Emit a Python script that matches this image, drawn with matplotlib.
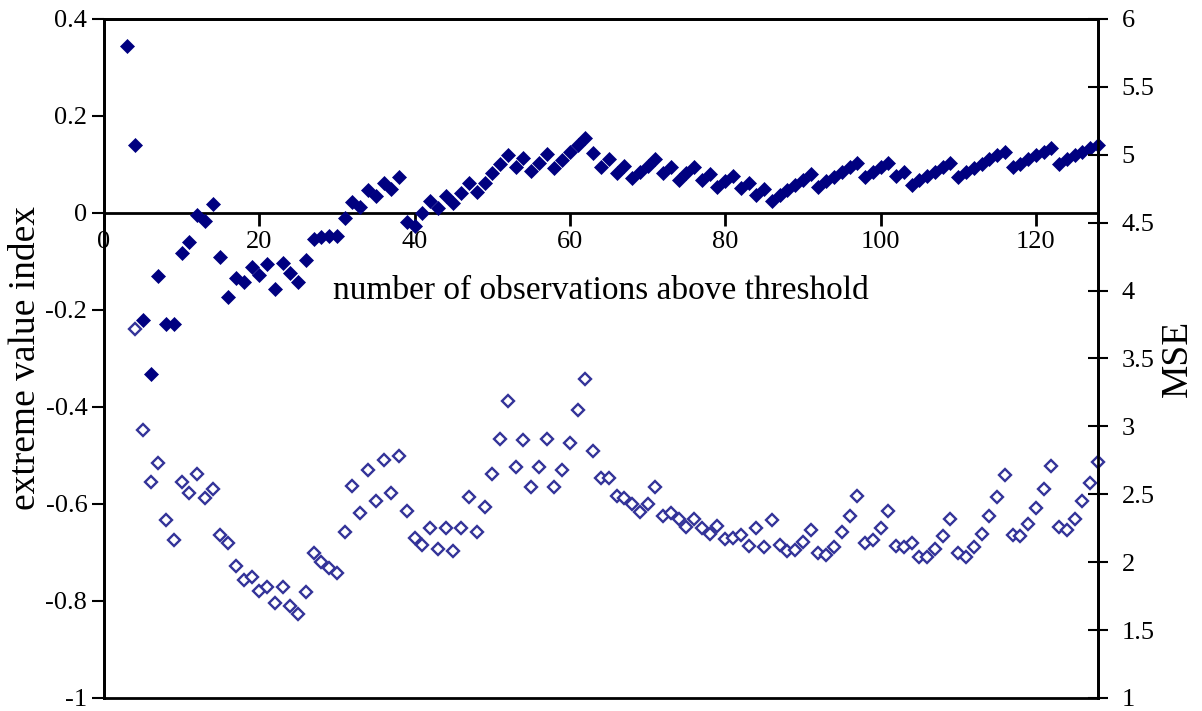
import numpy as np
import matplotlib
matplotlib.use('Agg')
import matplotlib.pyplot as plt
from matplotlib.ticker import FuncFormatter, MultipleLocator

plt.rcParams['font.family'] = ['Liberation Serif', 'DejaVu Serif']

# extreme value index (filled diamonds), k = 3..128
evi_k = np.arange(3, 129)
evi = [0.345, 0.14, -0.22, -0.333, -0.13, -0.229, -0.229, -0.082, -0.059, -0.004,
       -0.016, 0.019, -0.091, -0.173, -0.135, -0.142, -0.112, -0.128, -0.106, -0.157,
       -0.104, -0.124, -0.143, -0.096, -0.053, -0.049, -0.047, -0.047, -0.010, 0.023,
       0.013, 0.047, 0.034, 0.061, 0.049, 0.074, -0.018, -0.027, -0.001, 0.025,
       0.011, 0.035, 0.020, 0.041, 0.062, 0.043, 0.062, 0.082, 0.101, 0.120,
       0.094, 0.113, 0.087, 0.104, 0.121, 0.093, 0.109, 0.125, 0.140, 0.154,
       0.124, 0.095, 0.111, 0.083, 0.097, 0.072, 0.085, 0.097, 0.111, 0.082,
       0.095, 0.069, 0.082, 0.094, 0.068, 0.081, 0.053, 0.065, 0.077, 0.051,
       0.062, 0.037, 0.049, 0.025, 0.037, 0.047, 0.058, 0.069, 0.080, 0.054,
       0.065, 0.075, 0.085, 0.094, 0.104, 0.075, 0.084, 0.094, 0.104, 0.076,
       0.085, 0.058, 0.067, 0.076, 0.085, 0.094, 0.104, 0.075, 0.084, 0.093,
       0.102, 0.111, 0.120, 0.126, 0.094, 0.102, 0.111, 0.120, 0.126, 0.133,
       0.102, 0.111, 0.120, 0.126, 0.133, 0.140]

# MSE (open diamonds), k = 4..128
mse_k = np.arange(4, 129)
mse = [3.72, 2.97, 2.59, 2.73, 2.31, 2.16, 2.59, 2.51, 2.65, 2.47,
       2.54, 2.20, 2.14, 1.97, 1.87, 1.89, 1.79, 1.82, 1.70, 1.82,
       1.68, 1.62, 1.78, 2.07, 2.00, 1.96, 1.92, 2.22, 2.56, 2.36,
       2.68, 2.45, 2.75, 2.51, 2.78, 2.38, 2.18, 2.13, 2.25, 2.10,
       2.25, 2.08, 2.25, 2.48, 2.22, 2.41, 2.65, 2.91, 3.19, 2.70,
       2.90, 2.55, 2.70, 2.91, 2.55, 2.68, 2.88, 3.12, 3.35, 2.82,
       2.62, 2.62, 2.49, 2.47, 2.43, 2.37, 2.43, 2.55, 2.34, 2.36,
       2.32, 2.26, 2.32, 2.25, 2.21, 2.27, 2.17, 2.18, 2.20, 2.12,
       2.25, 2.11, 2.31, 2.13, 2.08, 2.09, 2.15, 2.24, 2.07, 2.05,
       2.11, 2.22, 2.34, 2.49, 2.14, 2.16, 2.25, 2.38, 2.12, 2.11,
       2.14, 2.04, 2.04, 2.10, 2.19, 2.32, 2.07, 2.04, 2.11, 2.21,
       2.34, 2.48, 2.64, 2.20, 2.19, 2.28, 2.40, 2.54, 2.71, 2.26,
       2.24, 2.32, 2.45, 2.58, 2.74]

fig = plt.figure(figsize=(12.02, 7.11), dpi=100)
ax = fig.add_axes([0.0865, 0.0183, 0.827, 0.955])
ax2 = ax.twinx()

ax.plot(evi_k, evi, linestyle='none', marker='D', markersize=7,
        markerfacecolor='#000080', markeredgecolor='#000080', markeredgewidth=0.5,
        clip_on=False, zorder=3)
ax2.plot(mse_k, mse, linestyle='none', marker='D', markersize=6.3,
         markerfacecolor='white', markeredgecolor='#333399', markeredgewidth=1.7,
         clip_on=False)

ax.set_xlim(0, 128)
ax.set_ylim(-1, 0.4)
ax2.set_ylim(1, 6)

# x axis crosses at y = 0
ax.spines['bottom'].set_position(('data', 0))
for s in ax.spines.values():
    s.set_linewidth(2)
for s in ax2.spines.values():
    s.set_linewidth(2)

ax.xaxis.set_major_locator(MultipleLocator(20))
ax.yaxis.set_major_locator(MultipleLocator(0.2))
ax2.yaxis.set_major_locator(MultipleLocator(0.5))

fmt = lambda v, p: ('%g' % round(v, 2)).replace('\u2212', '-')
ax.yaxis.set_major_formatter(FuncFormatter(fmt))
ax2.yaxis.set_major_formatter(FuncFormatter(fmt))
ax.xaxis.set_major_formatter(FuncFormatter(lambda v, p: '%d' % v))

ax.tick_params(axis='x', direction='out', length=9, width=2, labelsize=19, pad=4)
ax.tick_params(axis='y', direction='out', length=9, width=1.5, labelsize=19, pad=3)
ax2.tick_params(axis='y', direction='inout', length=14, width=1.5, labelsize=19, pad=10)

ax.set_xlabel('number of observations above threshold', fontsize=24, labelpad=16)
ax.set_ylabel('extreme value index', fontsize=27, labelpad=2)
ax2.set_ylabel('MSE', fontsize=27, labelpad=4)

fig.savefig('out.png', dpi=100)
